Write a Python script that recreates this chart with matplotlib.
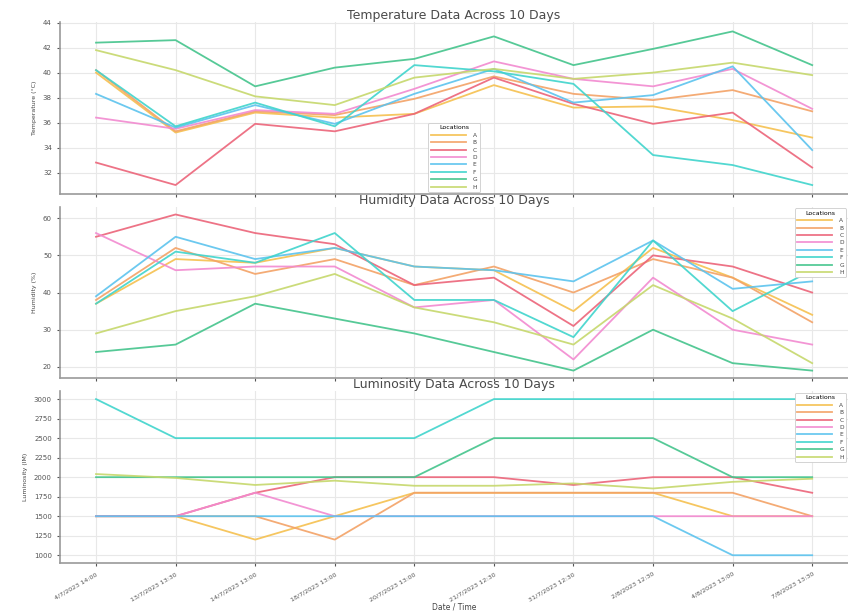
import matplotlib.pyplot as plt
from matplotlib.ticker import MultipleLocator

dates = ["4/7/2023 14:00", "13/7/2023 13:30", "14/7/2023 13:00", "18/7/2023 13:00",
         "20/7/2023 13:00", "21/7/2023 12:30", "31/7/2023 12:30", "2/8/2023 12:30",
         "4/8/2023 13:00", "7/8/2023 13:30"]
locations = ["A", "B", "C", "D", "E", "F", "G", "H"]
colors = ["#f5c04f", "#f3a266", "#ec6479", "#f28ad0", "#5cc3ee", "#3fd4cc", "#44c48c", "#c6d86c"]

# temperature per location (°C)
temperature = [
    [40.0, 35.2, 36.8, 36.4, 36.7, 39.0, 37.2, 37.3, 36.2, 34.8],  # A
    [40.2, 35.3, 36.9, 36.6, 37.9, 39.7, 38.3, 37.8, 38.6, 36.9],  # B
    [32.8, 31.0, 35.9, 35.3, 36.7, 39.6, 37.5, 35.9, 36.8, 32.4],  # C
    [36.4, 35.5, 37.0, 36.7, 38.7, 40.9, 39.5, 38.9, 40.3, 37.1],  # D
    [38.3, 35.6, 37.4, 35.9, 38.3, 40.3, 37.6, 38.2, 40.5, 33.8],  # E
    [40.2, 35.7, 37.6, 35.7, 40.6, 40.1, 39.1, 33.4, 32.6, 31.0],  # F
    [42.4, 42.6, 38.9, 40.4, 41.1, 42.9, 40.6, 41.9, 43.3, 40.6],  # G
    [41.8, 40.2, 38.1, 37.4, 39.6, 40.3, 39.5, 40.0, 40.8, 39.8],  # H
]

# relative humidity per location (%)
humidity = [
    [37, 49, 48, 52, 47, 46, 35, 52, 44, 34],  # A
    [38, 52, 45, 49, 42, 47, 40, 49, 44, 32],  # B
    [55, 61, 56, 53, 42, 44, 31, 50, 47, 40],  # C
    [56, 46, 47, 47, 36, 38, 22, 44, 30, 26],  # D
    [39, 55, 49, 52, 47, 46, 43, 54, 41, 43],  # E
    [37, 51, 48, 56, 38, 38, 28, 54, 35, 46],  # F
    [24, 26, 37, 33, 29, 24, 19, 30, 21, 19],  # G
    [29, 35, 39, 45, 36, 32, 26, 42, 33, 21],  # H
]

# luminosity per location
luminosity = [
    [1500, 1500, 1200, 1500, 1800, 1800, 1800, 1800, 1500, 1500],  # A
    [1500, 1500, 1500, 1200, 1800, 1800, 1800, 1800, 1800, 1500],  # B
    [1500, 1500, 1800, 2000, 2000, 2000, 1900, 2000, 2000, 1800],  # C
    [1500, 1500, 1800, 1500, 1500, 1500, 1500, 1500, 1500, 1500],  # D
    [1500, 1500, 1500, 1500, 1500, 1500, 1500, 1500, 1000, 1000],  # E
    [3000, 2500, 2500, 2500, 2500, 3000, 3000, 3000, 3000, 3000],  # F
    [2000, 2000, 2000, 2000, 2000, 2500, 2500, 2500, 2000, 2000],  # G
    [2040, 1990, 1900, 1955, 1890, 1890, 1920, 1855, 1940, 1980],  # H
]

panels = [
    (temperature, "Temperature Data Across 10 Days", "Temperature (°C)", 2, "lower center"),
    (humidity, "Humidity Data Across 10 Days", "Humidity (%)", 10, "upper right"),
    (luminosity, "Luminosity Data Across 10 Days", "Luminosity (lM)", 250, "upper right"),
]

x = list(range(len(dates)))

fig, axes = plt.subplots(3, 1, figsize=(8.48, 6.12), dpi=100, sharex=True)
fig.subplots_adjust(left=0.071, right=1.0, top=0.964, bottom=0.08, hspace=0.075)

for ax, (data, title, ylabel, step, legend_loc) in zip(axes, panels):
    for name, vals, c in zip(locations, data, colors):
        ax.plot(x, vals, color=c, lw=1.3, alpha=0.9, label=name)
    ax.set_title(title, fontsize=9, color="#4a4a4a", pad=2)
    ax.set_ylabel(ylabel, fontsize=4.5, color="#444444", labelpad=4)
    ax.yaxis.set_major_locator(MultipleLocator(step))
    ax.grid(True, color="#e8e8e8", lw=0.8)
    ax.set_axisbelow(True)
    for side in ["top", "right"]:
        ax.spines[side].set_visible(False)
    for side in ["left", "bottom"]:
        ax.spines[side].set_color("#9a9a9a")
        ax.spines[side].set_linewidth(1.2)
    ax.tick_params(labelsize=5, colors="#555555", length=2.5, width=0.8)
    leg = ax.legend(title="Locations", loc=legend_loc, fontsize=4.2, title_fontsize=4.5,
                    handlelength=6, handletextpad=1.2, labelspacing=0.4, borderaxespad=0.3,
                    frameon=True, edgecolor="#cccccc", framealpha=1.0)
    leg.get_frame().set_linewidth(0.6)
    for t in leg.get_texts():
        t.set_color("#444444")

axes[0].set_ylim(30.3, 44.05)

axes[-1].set_xticks(x)
axes[-1].set_xticklabels(dates, rotation=30, ha="right", rotation_mode="anchor", fontsize=4.6)
axes[-1].set_xlabel("Date / Time", fontsize=5.5, color="#444444", labelpad=0)

fig.savefig("out.png", dpi=100)
